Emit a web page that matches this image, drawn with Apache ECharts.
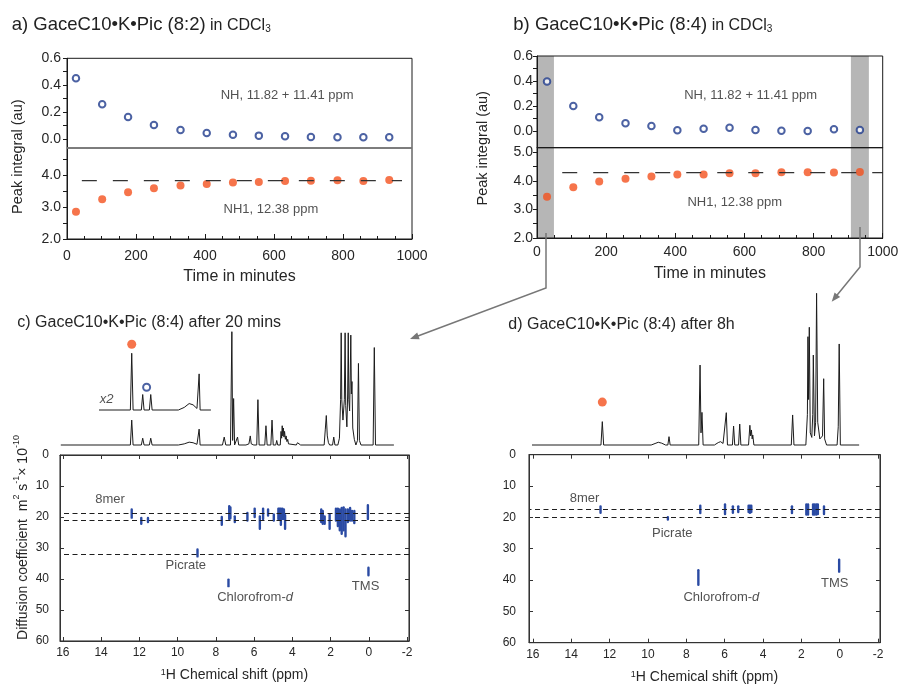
<!DOCTYPE html>
<html><head><meta charset="utf-8">
<script src="https://cdn.jsdelivr.net/npm/echarts@6/dist/echarts.min.js"></script>
<style>html,body{margin:0;padding:0;background:#fff}#c{width:902px;height:685px}</style>
</head><body><div id="c"></div>
<script>
// ---------- panel a / b : peak integrals vs time ----------
const timeA = [26,102,177,252,329,405,481,556,632,707,784,859,934];
const nhA   = [0.452,0.258,0.164,0.104,0.067,0.045,0.032,0.025,0.020,0.015,0.013,0.013,0.013];
const nh1A  = [2.85,3.24,3.46,3.58,3.67,3.72,3.76,3.78,3.81,3.82,3.83,3.81,3.84];
const plateauA = [[43,3.82],[971,3.82]];

const timeB = [29,105,180,256,331,406,482,557,632,707,783,859,934];
const nhB   = [0.395,0.200,0.110,0.061,0.040,0.005,0.018,0.026,0.008,0.002,0.000,0.013,0.008];
const nh1B  = [3.44,3.78,3.98,4.07,4.15,4.22,4.22,4.27,4.27,4.30,4.30,4.29,4.31];
const plateauB = [[73,4.29],[1000,4.29]];
const bandsB = [[0,49],[908,960]];

// tick labels / tick marks
const tickTime = [0,200,400,600,800,1000];
const labNH   = [0.0,0.2,0.4,0.6];
const tickNH  = [0.0,0.1,0.2,0.3,0.4,0.5,0.6];
const labNH1a = [2.0,3.0,4.0];
const tickNH1a= [2.0,2.5,3.0,3.5,4.0,4.5];
const labNH1b = [2.0,3.0,4.0,5.0];
const tickNH1b= [2.0,2.5,3.0,3.5,4.0,4.5,5.0];
const tickPpm = [16,14,12,10,8,6,4,2,0,-2];
const tickD   = [0,10,20,30,40,50,60];

// annotation texts in a / b (data coordinates)
const annNHa  = [{value:[638,0.327], name:'NH, 11.82 + 11.41 ppm'}];
const annNH1a = [{value:[591,2.92],  name:'NH1, 12.38 ppm'}];
const annNHb  = [{value:[618,0.285], name:'NH, 11.82 + 11.41 ppm'}];
const annNH1b = [{value:[572,3.24],  name:'NH1, 12.38 ppm'}];

// ---------- panel c : 1H spectrum after 20 min (ppm, relative intensity) ----------
const specC = [
 [16.0,0],[12.45,0],[12.38,22],[12.31,0],
 [11.89,0],[11.82,6],[11.75,0],
 [11.48,0],[11.41,6],[11.34,0],
 [10.0,0],[9.7,1],[9.45,2.5],[9.25,2],[9.05,0.6],[8.99,0.5],[8.94,14],[8.89,0],
 [7.75,0],[7.66,7],[7.58,0],
 [7.34,0],[7.27,100],[7.23,4],[7.18,41],[7.13,0],
 [7.04,0],[6.98,7],[6.92,0],
 [6.55,0],[6.40,1],[6.33,8],[6.28,1],[6.15,0],
 [6.0,0],[5.94,40],[5.88,0],
 [5.59,0],[5.53,17],[5.47,0],
 [5.28,0],[5.22,22],[5.16,0],
 [5.03,0],[4.98,4],[4.93,0],
 [4.80,0],[4.76,12],[4.73,6],[4.70,17],[4.67,8],[4.64,15],[4.61,7],[4.58,12],[4.54,5],[4.50,8],[4.46,3],[4.42,5],[4.38,1],[4.30,0],
 [3.98,0],[3.92,2],[3.87,1],[3.82,2],[3.76,0],
 [2.56,0],[2.50,14],[2.45,26],[2.40,8],[2.34,2],[2.28,0],
 [2.13,0],[2.07,7],[2.01,0],
 [1.86,0],[1.78,6],[1.72,40],[1.69,99],[1.66,40],[1.60,22],[1.53,40],[1.49,99],[1.46,35],[1.40,16],[1.36,45],[1.33,99],[1.30,40],[1.26,30],[1.23,60],[1.20,97],[1.17,45],[1.14,56],[1.10,15],[1.02,5],[0.94,0],
 [0.86,4],[0.81,72],[0.76,4],[0.68,0],
 [0.06,0],[0.0,86],[-0.06,0],[-1.0,0]
];
const insetRange = [14.05, 8.34];   // ppm window of the x2 inset
const insetGain = 2;
const markOrangeC = [[12.38, 51]];
const markBlueC   = [[11.62, 17.6]];
const x2Label = [{value:[13.66, 8.5], name:'x2'}];

// ---------- panel c : DOSY cross peaks (ppm, D top, D bottom) ----------
const dosyC = [
 [12.40,17.2,20.6],[11.90,19.9,22.6],[11.55,19.9,22.0],
 [8.96,30.1,33.1],
 [7.69,19.6,22.9],[7.30,16.1,21.0],[7.24,16.5,20.8],[7.01,19.4,22.0],
 [7.34,39.8,42.7],
 [6.35,18.3,21.5],[5.97,16.9,20.4],[5.70,19.4,24.2],[5.53,16.9,21.0],[5.27,17.2,19.9],[4.97,18.8,21.5],
 [4.73,16.9,21.0],[4.67,16.9,21.0],[4.60,16.9,22.9],[4.52,16.9,21.0],[4.44,17.2,21.0],[4.38,19.0,24.2],
 [2.49,17.2,22.0],[2.41,17.7,22.6],[2.31,19.4,22.6],[2.05,18.8,24.2],
 [1.72,16.9,21.5],[1.62,16.9,23.3],[1.52,17.2,24.7],[1.42,16.7,25.8],[1.32,16.5,24.7],[1.22,17.2,26.6],[1.10,17.2,22.0],[0.98,16.7,21.5],[0.88,17.7,21.5],[0.76,17.7,22.3],
 [0.05,15.8,21.0],
 [0.02,36.0,39.2]
];
const dashC = [18.8, 21.0, 32.0];
const labelsC = [
 {value:[13.53,14.2], name:'8mer'},
 {value:[9.57,35.5],  name:'Picrate'},
 {value:[5.95,46.0],  name:'Chlorofrom-{i|d}'},
 {value:[0.17,42.5],  name:'TMS'}
];

// ---------- panel d : 1H spectrum after 8 h ----------
const specD = [
 [16.2,0],[12.47,0],[12.40,15.4],[12.33,0],
 [9.85,0],[9.6,1.2],[9.48,1.8],[9.3,1.2],[9.1,0],
 [8.98,0],[8.92,5.5],[8.86,0],
 [7.37,0],[7.30,52.7],[7.25,8],[7.20,21.5],[7.14,0],
 [6.55,0],[6.35,1.6],[6.23,2.2],[6.1,1],[6.02,0],
 [5.99,0],[5.93,21.3],[5.87,0],
 [5.61,0],[5.55,12.5],[5.49,0],
 [5.29,0],[5.23,13.8],[5.17,0],
 [4.77,0],[4.70,13],[4.66,6],[4.62,9.9],[4.58,4],[4.55,6.6],[4.49,0],
 [2.54,0],[2.47,19.8],[2.40,0],
 [1.78,0],[1.70,20],[1.67,71.4],[1.64,30],[1.60,77.6],[1.55,8],[1.47,5],[1.42,20],[1.39,59.3],[1.33,6],[1.27,15],[1.22,100],[1.16,15],[1.05,4],[0.95,3],[0.91,6],[0.85,43.7],[0.80,4],[0.70,0],
 [0.15,0],[0.09,12],[0.04,66.6],[-0.02,0],[-1.0,0]
];
const markOrangeD = [[12.40, 28.3]];

// ---------- panel d : DOSY cross peaks ----------
const dosyD = [
 [12.47,16.1,18.9],[8.96,19.6,21.1],[7.27,15.9,19.0],
 [7.37,36.5,41.9],
 [5.98,15.5,19.3],[5.57,16.1,18.9],[5.29,16.1,18.7],
 [4.75,15.9,18.7],[4.68,15.9,18.9],[4.61,15.9,18.7],
 [2.49,16.1,19.0],[1.74,15.5,19.5],[1.65,15.5,19.5],
 [1.39,15.5,19.5],[1.31,15.5,19.5],[1.22,15.5,19.5],[1.14,15.5,19.3],
 [0.82,16.1,19.3],
 [0.03,33.1,37.7]
];
const dashD = [17.4, 20.0];
const labelsD = [
 {value:[13.3,13.9], name:'8mer'},
 {value:[8.73,25.1], name:'Picrate'},
 {value:[6.17,45.5], name:'Chlorofrom-{i|d}'},
 {value:[0.26,41.0], name:'TMS'}
];

// ================= styling / build =================
const FONT = '"Liberation Sans", Arial, Helvetica, sans-serif';
const INK = '#1a1a1a', TXT = '#262626', BLUE = '#1f3b8c', ORANGE = '#f4511e', CONT = '#2a4aa3', SPEC = '#1c1c1c';

const chart = echarts.init(document.getElementById('c'), null, {renderer:'canvas', width:902, height:685});

const boxGrid = (g) => Object.assign({show:true, borderColor:INK, borderWidth:1, backgroundColor:'transparent', z:10}, g);
const grids = [
  boxGrid({left:67,  right:490,  top:58.3,  bottom:537}),    // 0 a upper
  boxGrid({left:67,  right:490,  top:148,   bottom:446}),    // 1 a lower
  boxGrid({left:537, right:19.3, top:56,    bottom:537.3}),  // 2 b upper
  boxGrid({left:537, right:19.3, top:147.7, bottom:447}),    // 3 b lower
  {left:60.8, right:488.5, top:331.7, bottom:240},           // 4 c spectrum
  {left:60.8, right:488.5, top:281,   bottom:275},           // 5 c inset x2
  boxGrid({left:60,  right:493,  top:455,   bottom:44}),     // 6 c DOSY
  {left:533.3, right:23.7, top:293.3, bottom:240},           // 7 d spectrum
  boxGrid({left:529, right:22,   top:454.7, bottom:42.3})    // 8 d DOSY
];

const hiddenX = (gi, min, max, inv) => ({gridIndex:gi, type:'value', min, max, inverse:!!inv, show:false, splitLine:{show:false}});
const hiddenY = (gi, min, max) => ({gridIndex:gi, type:'value', min, max, show:false, splitLine:{show:false}});
const lbl = (o) => Object.assign({color:TXT, fontFamily:FONT, fontSize:14}, o);

const timeAxis = (gi, margin, gap) => ({
  gridIndex:gi, type:'value', min:0, max:1000, interval:200,
  axisLine:{show:true, onZero:false, lineStyle:{color:INK, width:1}},
  axisTick:{show:true, inside:true, length:5, lineStyle:{color:INK}},
  minorTick:{show:true, splitNumber:4, length:3, lineStyle:{color:INK}},
  axisLabel:lbl({margin, formatter:(v)=>String(v)}), splitLine:{show:false}, minorSplitLine:{show:false},
  name:'Time in minutes', nameLocation:'middle', nameGap:gap,
  nameTextStyle:{fontSize:16, color:TXT, fontFamily:FONT}, z:11
});
const ppmAxis = (gi, max, pos) => ({
  gridIndex:gi, type:'value', min:-2.1, max, inverse:true, position:pos,
  axisLine:{show:true, onZero:false, lineStyle:{color:'#333'}},
  axisTick:{show:true, inside:true, length:4, customValues:tickPpm, lineStyle:{color:'#333'}},
  axisLabel: pos === 'bottom' ? lbl({fontSize:12, margin:6, customValues:tickPpm, formatter:(v)=>String(v)}) : {show:false},
  splitLine:{show:false},
  name: pos === 'bottom' ? '{sup|1}H Chemical shift (ppm)' : '',
  nameLocation:'middle', nameGap:27,
  nameTextStyle:{fontSize:14, color:TXT, fontFamily:FONT, rich:{sup:{fontSize:9, color:TXT, fontFamily:FONT, verticalAlign:'top', lineHeight:10}}},
  z:11
});
const dAxis = (gi, pos, margin) => ({
  gridIndex:gi, type:'value', min:0, max:60, interval:10, inverse:true, position:pos,
  axisLine:{show:true, onZero:false, lineStyle:{color:'#333'}},
  axisTick:{show:true, inside:true, length:4, customValues:tickD, lineStyle:{color:'#333'}},
  axisLabel: pos === 'left' ? lbl({fontSize:12, margin}) : {show:false},
  splitLine:{show:false}, z:11
});
const intAxis = (gi, min, max, labs, ticks, margin) => ({
  gridIndex:gi, type:'value', min, max,
  axisLine:{show:true, onZero:false, lineStyle:{color:INK}},
  axisTick:{show:true, length:4, customValues:ticks, lineStyle:{color:INK}},
  axisLabel:lbl({margin, customValues:labs, formatter:(v)=>v.toFixed(1)}),
  splitLine:{show:false}, z:11
});

const xAxes = [
  {gridIndex:0, type:'value', min:0, max:1000, axisLine:{show:true, onZero:false, lineStyle:{color:'#8a8a8a', width:1.5}}, axisTick:{show:false}, axisLabel:{show:false}, splitLine:{show:false}, z:12},
  timeAxis(1, 10, 30),
  {gridIndex:2, type:'value', min:0, max:1000, axisLine:{show:true, onZero:false, lineStyle:{color:INK, width:1}}, axisTick:{show:false}, axisLabel:{show:false}, splitLine:{show:false}, z:12},
  timeAxis(3, 7, 28),
  hiddenX(4, -2, 16, true),
  hiddenX(5, -2, 16, true),
  ppmAxis(6, 16.15, 'bottom'),
  ppmAxis(6, 16.15, 'top'),
  hiddenX(7, -2, 16, true),
  ppmAxis(8, 16.2, 'bottom'),
  ppmAxis(8, 16.2, 'top')
];
const yAxes = [
  intAxis(0, -0.067, 0.6, labNH, tickNH, 6),
  intAxis(1, 2.0, 4.84, labNH1a, tickNH1a, 6),
  intAxis(2, -0.134, 0.6, labNH, tickNH, 4),
  intAxis(3, 2.0, 5.16, labNH1b, tickNH1b, 4),
  hiddenY(4, 0, 100),
  hiddenY(5, 0, 100),
  dAxis(6, 'left', 11),
  dAxis(6, 'right', 0),
  hiddenY(7, 0, 100),
  dAxis(8, 'left', 13),
  dAxis(8, 'right', 0)
];

const zip = (xs, ys) => xs.map((x, i) => [x, ys[i]]);
const textSeries = (xi, yi, data, size, italic) => ({
  type:'scatter', xAxisIndex:xi, yAxisIndex:yi, data, symbolSize:1, silent:true,
  itemStyle:{color:'transparent'}, z:20,
  label:{show:true, position:'inside', formatter:'{b}', color:TXT, fontFamily:FONT, fontSize:size, fontStyle: italic ? 'italic' : 'normal',
         rich:{i:{fontStyle:'italic', fontSize:size, color:TXT, fontFamily:FONT}}}
});
const bandArea = {silent:true, itemStyle:{color:'#b6b6b6'}, data: bandsB.map(b => [{xAxis:b[0]}, {xAxis:b[1]}])};

const contour = (params, api) => {
  const x = api.value(0);
  const a = api.coord([x, api.value(1)]);
  const b = api.coord([x, api.value(2)]);
  return {type:'rect', shape:{x:a[0]-1.2, y:Math.min(a[1], b[1]), width:2.4, height:Math.abs(b[1]-a[1]), r:1.2}, style:{fill:CONT}};
};
const dashLines = (vals) => ({silent:true, symbol:['none','none'], label:{show:false},
  lineStyle:{color:'#1e1e1e', width:1.1, type:[5,3.5]}, data: vals.map(v => ({yAxis:v}))});

const insetData = [[insetRange[0],0]]
  .concat(specC.filter(p => p[0] < insetRange[0] && p[0] > insetRange[1]).map(p => [p[0], p[1]*insetGain]))
  .concat([[insetRange[1],0]]);

const specLine = (xi, yi, data) => ({type:'line', xAxisIndex:xi, yAxisIndex:yi, data, symbol:'none', clip:false,
  lineStyle:{color:SPEC, width:1}, z:3, animation:false});

const series = [
  // panel a
  {type:'scatter', xAxisIndex:0, yAxisIndex:0, data:zip(timeA, nhA), symbol:'emptyCircle', symbolSize:6.5, itemStyle:{color:BLUE, borderWidth:1.8}, z:4},
  {type:'scatter', xAxisIndex:1, yAxisIndex:1, data:zip(timeA, nh1A), symbol:'circle', symbolSize:8, itemStyle:{color:ORANGE}, z:4},
  {type:'line', xAxisIndex:1, yAxisIndex:1, data:plateauA, symbol:'none', lineStyle:{color:'#333', width:1.2, type:[15,16]}, z:5},
  textSeries(0, 0, annNHa, 13), textSeries(1, 1, annNH1a, 13),
  // panel b
  {type:'scatter', xAxisIndex:2, yAxisIndex:2, data:zip(timeB, nhB), symbol:'emptyCircle', symbolSize:6.5, itemStyle:{color:BLUE, borderWidth:1.8}, z:4, markArea:bandArea},
  {type:'scatter', xAxisIndex:3, yAxisIndex:3, data:zip(timeB, nh1B), symbol:'circle', symbolSize:8, itemStyle:{color:ORANGE}, z:4, markArea:bandArea},
  {type:'line', xAxisIndex:3, yAxisIndex:3, data:plateauB, symbol:'none', lineStyle:{color:'#333', width:1.2, type:[15,16]}, z:5},
  textSeries(2, 2, annNHb, 13), textSeries(3, 3, annNH1b, 13),
  // panel c spectrum
  specLine(4, 4, specC),
  specLine(5, 5, insetData),
  {type:'scatter', xAxisIndex:5, yAxisIndex:5, data:markOrangeC, symbol:'circle', symbolSize:9, itemStyle:{color:ORANGE}, z:6},
  {type:'scatter', xAxisIndex:5, yAxisIndex:5, data:markBlueC, symbol:'emptyCircle', symbolSize:7, itemStyle:{color:BLUE, borderWidth:1.8}, z:6},
  textSeries(5, 5, x2Label, 13, true),
  // panel c DOSY
  {type:'custom', xAxisIndex:6, yAxisIndex:6, data:dosyC, encode:{x:0, y:[1,2]}, renderItem:contour, markLine:dashLines(dashC), z:4, clip:true},
  textSeries(6, 6, labelsC, 13),
  // panel d spectrum
  specLine(8, 8, specD),
  {type:'scatter', xAxisIndex:8, yAxisIndex:8, data:markOrangeD, symbol:'circle', symbolSize:9, itemStyle:{color:ORANGE}, z:6},
  // panel d DOSY
  {type:'custom', xAxisIndex:9, yAxisIndex:9, data:dosyD, encode:{x:0, y:[1,2]}, renderItem:contour, markLine:dashLines(dashD), z:4, clip:true},
  textSeries(9, 9, labelsD, 13)
];

// ---------- text & arrows ----------
const richTitle = (txt) => ({
  type:'text', x:0, y:0, z:50,
  style:{text:txt, fill:'#222', verticalAlign:'top', textVerticalAlign:'top',
    rich:{
      m:{fontSize:18.5, fontFamily:FONT, fill:'#222', color:'#222', lineHeight:22, verticalAlign:'bottom'},
      s:{fontSize:16, fontFamily:FONT, fill:'#222', color:'#222', lineHeight:21, verticalAlign:'bottom'},
      sub:{fontSize:10, fontFamily:FONT, fill:'#222', color:'#222', lineHeight:10, verticalAlign:'bottom'}
    }}
});
const plainText = (txt, x, y, size, rot) => ({
  type:'text', x, y, rotation:rot || 0, z:50,
  style:{text:txt, fill:TXT, font:size + 'px ' + FONT, align:rot ? 'center' : 'left', textAlign:rot ? 'center' : 'left',
         verticalAlign:'middle', textVerticalAlign:'middle'}
});
function arrow(pts) {
  const n = pts.length, t = pts[n-1], p = pts[n-2];
  const dx = t[0]-p[0], dy = t[1]-p[1], L = Math.hypot(dx, dy), ux = dx/L, uy = dy/L;
  const hl = 9, hw = 3.6, bx = t[0]-ux*hl, by = t[1]-uy*hl;
  return [
    {type:'polyline', z:50, shape:{points:pts.slice(0, n-1).concat([[bx+ux*2, by+uy*2]])}, style:{stroke:'#777', lineWidth:1.5, fill:null}},
    {type:'polygon', z:50, shape:{points:[t, [bx-uy*hw, by+ux*hw], [bx+uy*hw, by-ux*hw]]}, style:{fill:'#777'}}
  ];
}

const titleA = Object.assign(richTitle('{m|a) GaceC10•K•Pic (8:2)}{s| in CDCl}{sub|3}'), {x:11.7, y:12});
const titleB = Object.assign(richTitle('{m|b) GaceC10•K•Pic (8:4)}{s| in CDCl}{sub|3}'), {x:513.3, y:12});
const dosyName = {
  type:'text', x:21.5, y:537.5, rotation:Math.PI/2, z:50,
  style:{text:'{n|Diffusion coefficient  m}{sup|2}{n| s}{sup|-1}{n|× 10}{sup|-10}', align:'center', textAlign:'center', verticalAlign:'middle', textVerticalAlign:'middle',
    rich:{
      n:{fontSize:14, fontFamily:FONT, fill:TXT, color:TXT, lineHeight:18, verticalAlign:'bottom'},
      sup:{fontSize:9, fontFamily:FONT, fill:TXT, color:TXT, lineHeight:10, verticalAlign:'top'}
    }}
};

const graphics = [
  titleA, titleB,
  plainText('c) GaceC10•K•Pic (8:4) after 20 mins', 17.3, 322.7, 16),
  plainText('d) GaceC10•K•Pic (8:4) after 8h', 508.3, 325, 16),
  plainText('Peak integral (au)', 18.3, 156.7, 14.5, Math.PI/2),
  plainText('Peak integral (au)', 483, 148.3, 14.5, Math.PI/2),
  dosyName
].concat(arrow([[546,233],[546,288],[410,339]]))
 .concat(arrow([[860,227],[860,267],[831.7,301.7]]));

chart.setOption({
  animation:false,
  backgroundColor:'#ffffff',
  textStyle:{fontFamily:FONT},
  grid:grids, xAxis:xAxes, yAxis:yAxes, series, graphic:graphics
});
</script>
</body></html>
